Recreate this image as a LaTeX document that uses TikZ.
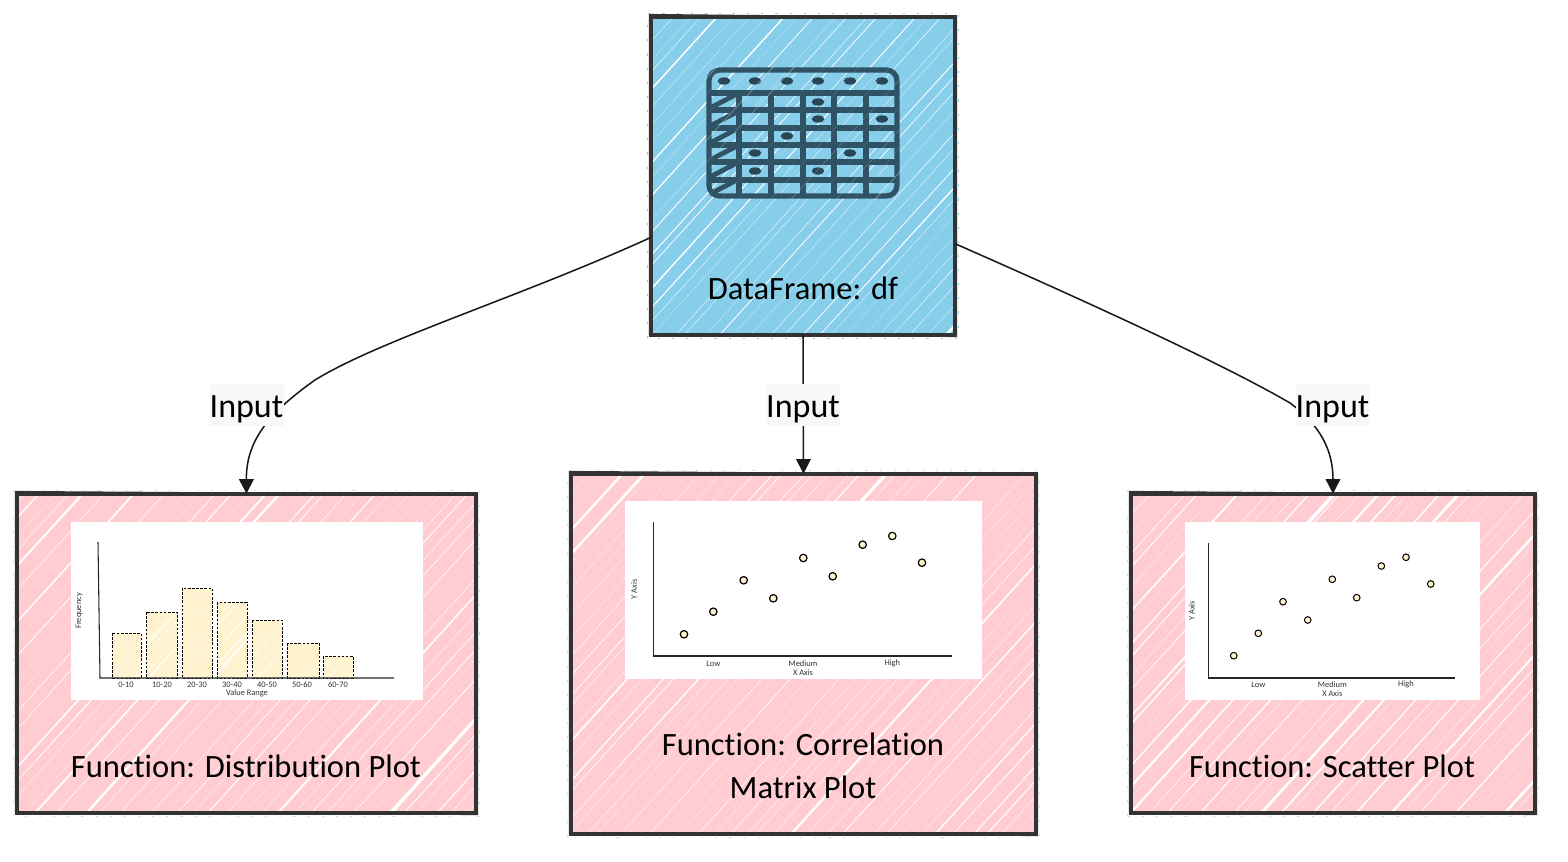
\documentclass[tikz,border=0pt]{standalone}
\usepackage{fontspec}
\setmainfont{Carlito}[Ligatures=NoCommon]
\usetikzlibrary{arrows.meta}
\usetikzlibrary{shapes.geometric}

\definecolor{dfblue}{HTML}{87CEEB}
\definecolor{fnpink}{HTML}{FFCCD2}
\definecolor{barcream}{HTML}{FFF2CC}
\definecolor{iconslate}{HTML}{2F5264}
\definecolor{edgegrey}{HTML}{333333}
\definecolor{labelgrey}{HTML}{F8F8F8}

\tikzset{
  sketchbox/.style={rectangle, inner sep=0pt, draw=none},
  plotbox/.style={rectangle, inner sep=0pt, fill=white},
  boxedge/.style={draw=edgegrey, line width=3pt},
  boxtext/.style={inner sep=0pt, align=center, text=black, font=\fontsize{24.4}{32}\selectfont},
  inputlabel/.style={fill=labelgrey, inner sep=0pt, minimum width=55.5pt, minimum height=31.5pt, text height=19.5pt, text depth=0pt, text=black, font=\fontsize{25.5}{32}\selectfont},
  arrowline/.style={draw=black!90, line width=1.15pt, -{Stealth[length=11pt,width=11pt,inset=0pt]}},
  plotaxis/.style={draw=black!85, line width=.8pt},
  plotbar/.style={draw=black, line width=.6pt, dash pattern=on 2pt off 1.1pt},
  plotdot/.style={circle, draw=black, line width=.9pt, fill=barcream, inner sep=0pt, minimum size=5.6pt},
  ticktext/.style={inner sep=0pt, text=black!80, font=\fontsize{6.3}{8}\selectfont},
  gridline/.style={draw=iconslate, line width=3.9pt},
  celldot/.style={ellipse, fill=iconslate!85!black, inner sep=0pt, minimum width=9.5pt, minimum height=5.5pt}
}

% white slivers over a filled area: x1 y1 x2 y2 gap width
\newcommand{\hachure}[6]{%
  \begin{scope}
    \clip (#1,#2) rectangle (#3,#4);
    \pgfmathsetmacro{\hrun}{(#4-#2)/1.1}
    \pgfmathsetmacro{\hfirst}{#1-\hrun}
    \pgfmathsetmacro{\hnext}{\hfirst+#5}
    \foreach \hx in {\hfirst,\hnext,...,#3} {
      \pgfmathsetmacro{\hw}{#6*rnd*rnd}
      \pgfmathsetmacro{\hr}{rnd}
      \pgfmathsetmacro{\hj}{\hx+.6*#5*rnd}
      \fill[white] (\hj,#4) -- (\hj+\hw*\hr,#4) -- (\hj+\hrun+\hw-\hw*\hr,#2) -- (\hj+\hrun,#2) -- cycle;
    }
  \end{scope}}

% outline with a second loose stroke and flecks of the fill outside it
\newcommand{\boxoutline}[2]{%
  \draw[#2, line width=1.1pt, dash pattern=on 1.6pt off 9pt] ([shift={(-3,3)}]#1.south west) rectangle ([shift={(3,-3)}]#1.north east);
  \draw[boxedge] (#1.south west) rectangle (#1.north east);
  \draw[edgegrey, line width=1.2pt] ([shift={(-1,-2)}]#1.north west) -- ([shift={(1,1)}]#1.north east) -- ([shift={(1,1)}]#1.south east) -- ([shift={(-1,-1)}]#1.south west) -- cycle;}

\begin{document}
\begin{tikzpicture}[x=.75pt, y=-.75pt]
\useasboundingbox (0,0) rectangle (1568,862);
\pgfmathsetseed{2024}

% source box
\node[sketchbox, fill=dfblue, minimum width=228pt, minimum height=238.5pt] (df) at (803,176) {};
\hachure{651}{17}{955}{335}{16}{7}
% table icon
\draw[gridline, rounded corners=8pt] (709,70) rectangle (897,196);
\foreach \y in {93,110,128,145,162,180} \draw[gridline] (709,\y) -- (897,\y);
\foreach \x in {739,771,803,834,866} \draw[gridline] (\x,93) -- (\x,196);
\foreach \y in {108,126,143,160,177,194} \draw[gridline, line width=3.6pt] (710,\y) -- (737,\y-14);
\foreach \i/\x/\y in {1/724/81,2/755/81,3/787/81,4/818/81,5/850/81,6/882/81,7/818/102,8/818/119,9/882/119,10/787/136,11/755/153,12/850/153,13/755/171,14/818/171}
  \node[celldot] (cell\i) at (\x,\y) {};
\begin{scope}[opacity=.3]
\hachure{705}{66}{901}{200}{22}{4}
\end{scope}
\boxoutline{df}{dfblue}
\node[boxtext] (dftext) at (803,288) {DataFrame: df};

% function boxes
\node[sketchbox, fill=fnpink, minimum width=344.25pt, minimum height=239.25pt] (distbox) at (246.5,653.5) {};
\hachure{17}{494}{476}{813}{16}{7}
\boxoutline{distbox}{fnpink}
\node[sketchbox, fill=fnpink, minimum width=348.75pt, minimum height=270pt] (corrbox) at (803.5,654) {};
\hachure{571}{474}{1036}{834}{16}{7}
\boxoutline{corrbox}{fnpink}
\node[sketchbox, fill=fnpink, minimum width=303pt, minimum height=239.25pt] (scatbox) at (1333,653.5) {};
\hachure{1131}{494}{1535}{813}{16}{7}
\boxoutline{scatbox}{fnpink}

\node[boxtext] (disttext) at (246,766) {Function: Distribution Plot};
\node[boxtext] (corrtext) at (803,766) {Function: Correlation\\Matrix Plot};
\node[boxtext] (scattext) at (1332,766) {Function: Scatter Plot};

% distribution plot
\node[plotbox, minimum width=264pt, minimum height=133.5pt] (distplot) at (247,611) {};
\foreach \xa/\xb/\top/\w in {112/141/633/3,146/177/612/4,182/212/588/1.5,217/247/602/6,252/282/620/2.5,287/319/643/2,323/353/656/3} {
  \fill[barcream] (\xa,\top) rectangle (\xb,678);
  \hachure{\xa}{\top}{\xb}{678}{6}{\w}
  \draw[plotbar] (\xa,\top) rectangle (\xb,678);
}
\draw[plotaxis] (98,542) -- (100,678) -- (394,678);
\foreach \i/\x/\t in {1/126/0-10,2/162/10-20,3/197/20-30,4/232/30-40,5/267/40-50,6/302/50-60,7/338/60-70}
  \node[ticktext] (disttick\i) at (\x,684.5) {\t};
\node[ticktext] (distxaxis) at (247,693) {Value Range};
\node[ticktext, rotate=90] (distyaxis) at (79,611) {Frequency};

% correlation plot
\node[plotbox, minimum width=267.75pt, minimum height=133.5pt] (corrplot) at (803.5,590) {};
\draw[plotaxis] (653.3,522) -- (653.3,656) -- (952,656);
\foreach \i/\x/\y in {1/684/634.3,2/713.3/611.7,3/743.7/580.3,4/773.3/598.3,5/803.3/558,6/832.7/576.3,7/862.7/544.7,8/892.3/536,9/922/562.7}
  \node[plotdot] (corrdot\i) at (\x,\y) {};
\foreach \i/\x/\t in {1/713.3/Low,2/803/Medium,3/892.3/High}
  \node[ticktext] (corrtick\i) at (\x,663.5) {\t};
\node[ticktext] (corrxaxis) at (803,673) {X Axis};
\node[ticktext, rotate=90] (corryaxis) at (634,589.5) {Y Axis};

% scatter plot
\node[plotbox, minimum width=221.25pt, minimum height=133.5pt] (scatplot) at (1332.5,611) {};
\draw[plotaxis] (1208.3,543.5) -- (1208.3,678) -- (1455,678);
\foreach \i/\x/\y in {1/1233.7/655.7,2/1258.3/633.3,3/1283/601.7,4/1307.7/620,5/1332.3/579.3,6/1356.7/597.7,7/1381.3/566,8/1406/557.3,9/1430.7/584}
  \node[plotdot, minimum size=5pt, line width=.75pt] (scatdot\i) at (\x,\y) {};
\foreach \i/\x/\t in {1/1258.3/Low,2/1332.3/Medium,3/1406/High}
  \node[ticktext] (scattick\i) at (\x,684.5) {\t};
\node[ticktext] (scatxaxis) at (1332.3,693.5) {X Axis};
\node[ticktext, rotate=90] (scatyaxis) at (1191.7,611) {Y Axis};

% connectors
\draw[arrowline] (df.202.5) .. controls (520,297) and (380,340) .. (315,380) .. controls (270,412) and (246,440) .. (distbox.north);
\draw[arrowline] (df.south) -- (corrbox.north);
\draw[arrowline] (df.336.2) .. controls (1090,303) and (1225,365) .. (1290,403) .. controls (1320,425) and (1333,450) .. (scatbox.north);
\node[inputlabel] (inputa) at (246.5,405) {Input};
\node[inputlabel] (inputb) at (803,405) {Input};
\node[inputlabel] (inputc) at (1332.5,405) {Input};
\end{tikzpicture}
\end{document}
